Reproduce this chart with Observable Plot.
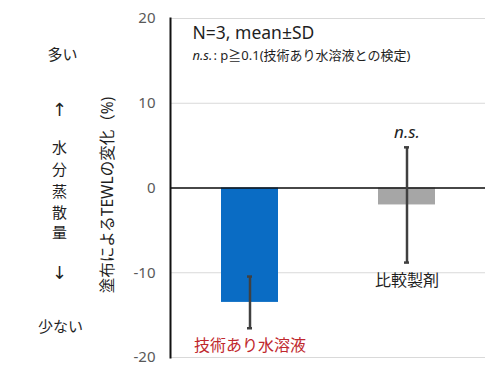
<!DOCTYPE html>
<html>
<head>
<meta charset="utf-8">
<script src="https://cdn.jsdelivr.net/npm/d3@7"></script>
<script src="https://cdn.jsdelivr.net/npm/@observablehq/plot@0.6"></script>
<style>
  html, body { margin: 0; padding: 0; background: #fff; }
  #chart svg { display: block; }
</style>
</head>
<body>
<div id="chart"></div>
<script>
// TEWL change after application (%), N=3, mean ± SD
const categories = ["技術あり水溶液", "比較製剤"];
const means = [-13.5, -2.0];
const sds = [3.05, 6.8];
const significance = ["", "n.s."];
const yTicks = [-20, -10, 0, 10, 20];

const data = categories.map((c, i) => ({
  cat: c, mean: means[i], sd: sds[i], sig: significance[i]
}));

const FONT = "'Noto Sans', 'Noto Sans CJK JP', sans-serif";
const ARROW_FONT = "'DejaVu Sans', sans-serif";
const INK = "#1f1f1f";
const barColors = ["#0a6cc4", "#a6a6a6"];
const labelColors = ["#c0282d", INK];

// a single line of annotation text placed relative to the frame's top-left corner
const note = (s, dx, dy, opts = {}) =>
  Plot.text([s], {
    frameAnchor: "top-left", dx, dy, textAnchor: "middle", lineAnchor: "middle",
    fontSize: 15, fill: INK, ...opts
  });

const chart = Plot.plot({
  width: 490,
  height: 376,
  marginLeft: 170,
  marginRight: 5,
  marginTop: 18,
  marginBottom: 19,
  style: { fontFamily: FONT, background: "#fff" },
  x: { domain: categories, paddingInner: 0.638, paddingOuter: 0.319, axis: null },
  y: { domain: [-20, 20], ticks: yTicks, label: null },
  color: { domain: categories, range: barColors },
  marks: [
    // gridlines
    Plot.gridY(yTicks, { stroke: "#d9d9d9", strokeOpacity: 1, strokeWidth: 1 }),
    // tick labels
    Plot.axisY(yTicks, {
      tickSize: 0, tickPadding: 15, fontSize: 15, fill: "#595959",
      label: null, tickFormat: d => String(d)
    }),
    // bars
    Plot.barY(data, { x: "cat", y: "mean", fill: "cat" }),
    // zero line and vertical axis line
    Plot.ruleY([0], { stroke: "#111", strokeWidth: 1.5 }),
    Plot.frame({ anchor: "left", stroke: "#111", strokeWidth: 2 }),
    // error bars
    Plot.ruleX(data, {
      x: "cat", y1: d => d.mean - d.sd, y2: d => d.mean + d.sd,
      stroke: "#404040", strokeWidth: 2.5
    }),
    Plot.tickY(data, {
      x: "cat", y: d => d.mean + d.sd, stroke: "#404040", strokeWidth: 2.5,
      insetLeft: 26, insetRight: 26
    }),
    Plot.tickY(data, {
      x: "cat", y: d => d.mean - d.sd, stroke: "#404040", strokeWidth: 2.5,
      insetLeft: 26, insetRight: 26
    }),
    // significance marks above error bars
    Plot.text(data, {
      x: "cat", y: d => d.mean + d.sd, text: "sig", dy: -15,
      fontSize: 17, fontStyle: "italic", fill: INK
    }),
    // category labels below error bars
    Plot.text(data, {
      x: "cat", y: d => d.mean - d.sd, text: "cat", dy: 18, fontSize: 16,
      fill: (d, i) => labelColors[i]
    }),
    // header annotation
    note("N=3, mean±SD", 22, 15, { textAnchor: "start", fontSize: 17.5 }),
    note("n.s.", 22, 37, { textAnchor: "start", fontSize: 13, fontStyle: "italic" }),
    note(": p≧0.1(技術あり水溶液との検定)", 43, 37, { textAnchor: "start", fontSize: 13 }),
    // y axis title
    Plot.text(["塗布によるTEWLの変化（%)"], {
      frameAnchor: "left", dx: -62, dy: 7, rotate: -90, textAnchor: "middle",
      lineAnchor: "middle", fontSize: 15.5, fill: INK
    }),
    // left-side direction guide
    note("多い", -108, 37),
    note("↑", -111, 92, { fontFamily: ARROW_FONT, fontSize: 18 }),
    note("水", -111, 130),
    note("分", -111, 152),
    note("蒸", -111, 174),
    note("散", -111, 195),
    note("量", -111, 215),
    note("↓", -111, 255, { fontFamily: ARROW_FONT, fontSize: 18 }),
    note("少ない", -110, 309)
  ]
});

document.getElementById("chart").append(chart);
</script>
</body>
</html>
